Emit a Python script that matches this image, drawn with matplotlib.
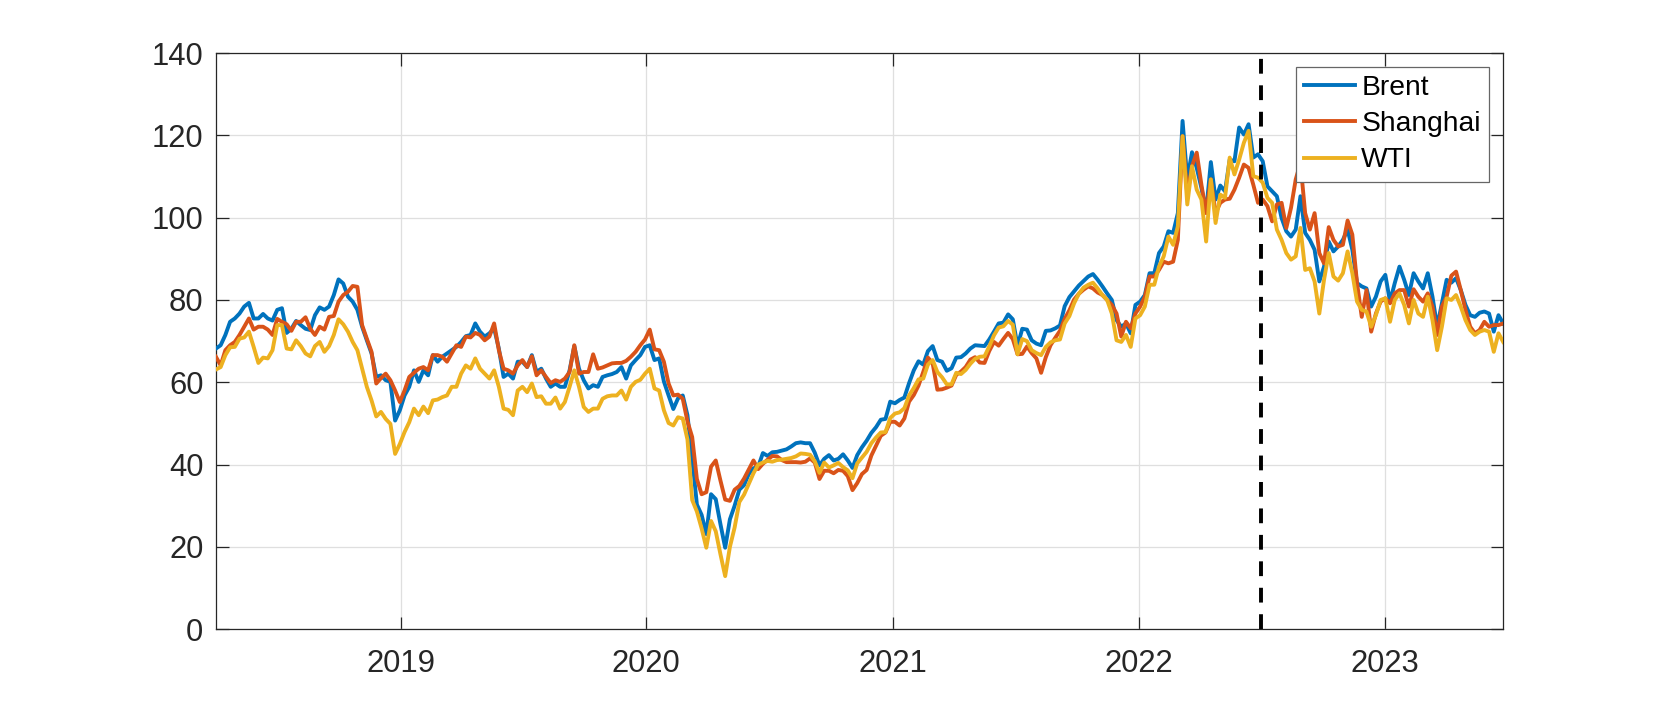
import matplotlib
matplotlib.use("Agg")
import matplotlib.pyplot as plt
import pandas as pd

plt.rcParams['font.family'] = ['Liberation Sans', 'DejaVu Sans']

start_date = "2018-04-02"
event_date = "2022-07-01"
year_ticks = ["2019-01-01", "2020-01-01", "2021-01-01", "2022-01-01", "2023-01-01"]
year_labels = ["2019", "2020", "2021", "2022", "2023"]
y_ticks = [0, 20, 40, 60, 80, 100, 120, 140]
series_names = ["Brent", "Shanghai", "WTI"]

brent = [
    68.2, 69, 71.5, 74.7, 75.5, 76.7, 78.4, 79.3, 75.5, 75.5, 76.6, 75.5, 75, 77.6, 78, 72, 73, 74.9, 73.9, 73,
    72.7, 76.3, 78.2, 77.6, 78.4, 81.2, 85, 84, 80.8, 79.6, 77.6, 73.5, 70.2, 67, 61.3, 61.7, 60.5, 60.1, 50.7, 53.2,
    56.8, 58.9, 62.9, 60.1, 62.9, 61.7, 66.6, 65,
    66.2, 67, 67.8, 68.6, 69.8, 71.2, 71.5, 74.3, 72.3, 71.1, 71.9, 73.1, 68.2, 61.3, 62.1, 60.9, 65, 65, 63.7, 66.6,
    62.5, 63.3, 60.9, 58.9, 59.7, 58.9, 58.9, 62.9, 68.8, 63.3, 60.5, 58.5, 59.3, 58.9, 61.3, 61.7, 62, 62.5, 63.7,
    60.9, 64.1, 65.4, 66.6, 68.6, 69, 65.4, 65.8,
    60.2, 56.8, 53.5, 56.1, 56.8, 52, 41.6, 30.3, 27.8, 23.1, 32.8, 31.6, 25.5, 19.8, 26.7, 30, 33.9, 35, 37.7, 39.1,
    39.5, 42.8, 42.1, 43, 43.1, 43.4, 43.7, 44.4, 45.2, 45.4, 45.2, 45.2, 42.9, 39.8, 41.4, 42.3, 41, 41.4, 42.5, 41,
    39.2, 42.3, 44.2, 45.8, 47.7, 49.1,
    50.9, 51.1, 55.3, 54.9, 55.7, 56.3, 59.8, 62.9, 65.1, 64.3, 67.6, 68.8, 65.4, 65, 62.8, 63.4, 66, 66.1, 67, 68.2,
    69, 68.9, 68.8, 70.4, 72.3, 74.3, 74.5, 76.5, 75.3, 68.8, 73, 72.8, 70.2, 69.4, 69, 72.5, 72.6, 73.1, 73.8, 78.5,
    80.7, 82.1,
    83.5, 84.6,
    85.7, 86.3, 84.9, 83.3, 81.6, 80, 75.1, 73.5, 74.3, 71.9, 78.8, 79.6, 81.2, 86.5, 86.5, 91.4, 93, 96.7, 96.3, 101.1,
    123.5, 109.3, 115.9, 112.1, 107.2, 101.5, 113.5, 104.4, 107.8, 106.4, 114.1, 113.7, 121.9, 120.2, 122.7, 114.6,
    115.4, 113.7, 107.6, 106.4, 105.2, 99.9, 96.7, 95.4, 97.1, 105.2, 96.3, 94.6, 92.2, 84.5,
    88.1, 94.2, 91.8, 93, 94.6, 97.1, 92.2, 84.1, 83.3, 82.8, 78.4, 80.8, 84.5, 86.1, 79.6, 84.1, 88.1, 84.9, 81.2,
    86.5, 84.5, 82.8, 86.5, 80.8, 73.5, 79.2, 84.9, 84.2, 85.3, 82.4, 78.8, 76.3, 75.9, 76.9, 77.2, 76.7, 72.3, 76.3,
    74.3,
]

shanghai = [
    66.2, 64.1, 67.8, 69, 69.8, 71.5, 73.5, 75.5, 72.8, 73.5, 73.5, 72.8, 71.5, 75.4, 74.7, 74.1, 72.5, 74.7, 74.7,
    75.8, 73, 71.5, 73.5, 72.8, 75.9, 76.1, 79.6, 81.2, 82, 83.4, 83.2, 73.9, 70.6, 67.4, 59.7, 61, 62.1, 60.5, 58,
    55.2, 58, 61.3, 62.3, 63.3, 63.7, 62.9, 66.6, 66.6,
    66.2, 65, 67, 69, 68.6, 71.1, 70.9, 72, 71.5, 70.2, 71.1, 74.3, 67.8, 63.3, 62.9, 62.1, 64.1, 65.4, 63.7, 66.3,
    61.7, 62.9, 61.3, 59.8, 60.5, 60.1, 60.9, 62.5, 69, 62.1, 62.5, 62.5, 66.8, 63.3, 63.6, 64.1, 64.6, 64.7, 64.7,
    65.2, 66.2, 67.4, 69, 70.4, 72.8, 68, 67.8,
    65, 59.7, 56.8, 57, 56, 50.5, 46.7, 36.5, 32.8, 33.3, 39.5, 41, 36.1, 31.5, 31.2, 33.9, 34.8, 36.6, 38.8, 41,
    38.9, 40.2, 41.2, 42.1, 42, 41.1, 40.6, 40.6, 40.6, 40.5, 40.7, 41.5, 40.5, 36.5, 38.5, 38.5, 37.9, 38.7, 38.5,
    37.2, 33.8, 35.5, 37.7, 38.7, 42.2, 44.6,
    47, 47.8, 50.4, 50.4, 49.5, 51.2, 55.3, 56.9, 59.2, 62.5, 66, 64.6, 58.2, 58.3, 58.7, 59.2, 61.8, 62.6, 63.7,
    65.5, 66.1, 64.8, 64.7, 67.6, 69.8, 68.9, 70.5, 72, 70.5, 66.8, 66.9, 68.7, 67.1, 65.8, 62.3, 66.1, 69, 70.8,
    72.5, 75.4, 77.5, 80.1,
    81.5, 82.5,
    83.3, 82.8, 81.8, 81.2, 80, 78.8, 76.7, 71.1, 74.7, 73.1, 76.7, 78.4, 80.8, 85.7, 85.7, 87.3, 89.3, 88.9, 89.3,
    94.6, 119.8, 105.6, 112.5, 115.8, 108, 101.1, 109.3, 101.1, 103.6, 104.4, 104.6, 106.8, 109.7, 112.9, 112.1, 108,
    103.6, 104.4, 102.8, 99.1, 103.2, 103.6, 97.5, 102.4, 109.3, 113.3, 101.1, 97.1, 101.1, 91.4,
    88.9, 97.7, 94.6, 93, 93.4, 99.3, 95.9, 84.1, 75.9, 82.4, 72.3, 76.7, 79.6, 80.4, 79.2, 81.6, 82.4, 82.4, 78.4,
    82.6, 80.8, 79.6, 81.6, 78.4, 71.5, 78.4, 80.8, 85.9, 86.9, 82.4, 77.6, 73.5, 71.9, 72.7, 74.7, 73.5, 73.9, 73.9,
    74.3,
]

wti = [
    63.1, 63.7, 66.6, 68.5, 68.6, 70.6, 70.9, 72.3, 68.6, 64.7, 66, 65.8, 67.8, 73.9, 73.9, 68.2, 68, 70.2, 68.8, 67,
    66.3, 68.8, 69.8, 67.4, 68.8, 71.5, 75.3, 74.1, 72.3, 69.8, 67.8, 63.3, 58.9, 55.6, 51.7, 52.8, 51.1, 49.9, 42.6,
    45, 47.9, 50.3, 53.6, 52, 54.1, 52.5, 55.6, 55.8,
    56.4, 56.8, 58.9, 58.9, 62.1, 64.1, 63.3, 65.8, 63.3, 62.1, 60.9, 62.9, 58.9, 53.6, 53.3, 52, 58, 58.9, 57.6,
    59.7, 56.4, 56.6, 54.8, 54.8, 56.3, 53.6, 55.2, 58.9, 62.9, 58.9, 54, 52.8, 53.6, 53.6, 56, 56.6, 56.8, 56.8, 58,
    55.8, 58.9, 60.1, 60.6, 62.1, 63.3, 58.5, 58,
    53.2, 50.1, 49.5, 51.5, 51.2, 46.1, 31.4, 28.6, 24.5, 19.8, 26.3, 23.8, 18.2, 12.9, 20, 24.7, 30.9, 32.7, 35.3,
    37.9, 40, 40.5, 40.9, 40.7, 41.1, 41.2, 41.4, 41.6, 42, 42.7, 42.6, 42.4, 40.8, 38, 40.5, 39.3, 39.8, 40.4, 39.4,
    38.6, 36.7, 40.3, 41.7, 43.1, 45.2, 46.6,
    47.8, 47.9, 51.3, 52.4, 52.7, 53.7, 56.8, 58.6, 60.7, 60.9, 64.3, 65.4, 62.5, 61.2, 59.5, 59.5, 62.3, 62, 63,
    64.5, 65.7, 66.2, 66.3, 68.7, 71.4, 73.3, 73.6, 74.9, 74, 66.8, 70.5, 70, 67.8, 67.1, 66.6, 68.6, 69.7, 70.2,
    70.4, 74.3, 76.1, 79.2,
    81.5, 83,
    83.7, 84.2, 82.8, 81.2, 80, 76.7, 70.2, 69.8, 71.5, 68.6, 75.5, 76.3, 78.4, 83.7, 83.7, 88.1, 90.6, 95.4, 93.4,
    97.9, 119.8, 103.2, 112.5, 106.8, 104.4, 94.2, 109.3, 98.7, 105.6, 104.8, 114.6, 110.5, 114.1, 118.2, 121.1,
    110.1, 109.7, 108.5, 104.8, 103.6, 97.1, 94.6, 91.4, 89.8, 90.6, 97.5, 87.3, 87.7, 84.5, 76.7,
    84.9, 91.4, 85.7, 84.7, 86.5, 91.8, 86.5, 79.6, 77.6, 77.2, 73.5, 76.3, 80, 80.4, 74.7, 80, 81.6, 78.8, 74.3, 80,
    76.7, 75.9, 80.8, 75.1, 67.8, 73.5, 80.4, 80, 81.2, 78.4, 75.1, 72.7, 71.5, 72.3, 72.7, 72.3, 67.4, 71.9, 69.8,
]

n = min(len(brent), len(shanghai), len(wti))
dates = pd.date_range(start_date, periods=n, freq="7D")

colors = ["#0072BD", "#D95319", "#EDB120"]
axis_col = "#262626"

fig = plt.figure(figsize=(16.61, 7.07), dpi=100)
ax = fig.add_axes([0.13, 0.11, 0.775, 0.815])

for vals, name, c in zip([brent, shanghai, wti], series_names, colors):
    ax.plot(dates, vals[:n], color=c, lw=2.8, label=name, solid_joinstyle="round", zorder=3)

ax.axvline(pd.Timestamp(event_date), color="black", lw=2.8,
           linestyle=(0, (3.8, 3.0)), zorder=4)

ax.set_xlim(dates[0], dates[-1])
ax.set_ylim(0, 140)
ax.set_yticks(y_ticks)
ax.set_xticks(pd.to_datetime(year_ticks))
ax.set_xticklabels(year_labels)

ax.grid(True, color="#dfdfdf", lw=0.9, zorder=0)
ax.set_axisbelow(True)
for s in ax.spines.values():
    s.set_color(axis_col)
    s.set_linewidth(0.9)
ax.tick_params(axis="both", direction="in", length=9, width=0.9, color=axis_col,
               top=True, right=True, labelsize=22.3, labelcolor=axis_col)
ax.tick_params(axis="y", pad=9)
ax.tick_params(axis="x", pad=14)

leg = ax.legend(loc="upper right", bbox_to_anchor=(1489.3 / 1661, 1 - 66.7 / 707),
                bbox_transform=fig.transFigure, borderaxespad=0, fontsize=20.3,
                handlelength=1.8, handletextpad=0.22, labelspacing=0.36, borderpad=0.3,
                fancybox=False, framealpha=1, edgecolor="#666666")
leg.get_frame().set_linewidth(0.9)
for t in leg.get_texts():
    t.set_color("black")

fig.savefig("out.png", dpi=100)
